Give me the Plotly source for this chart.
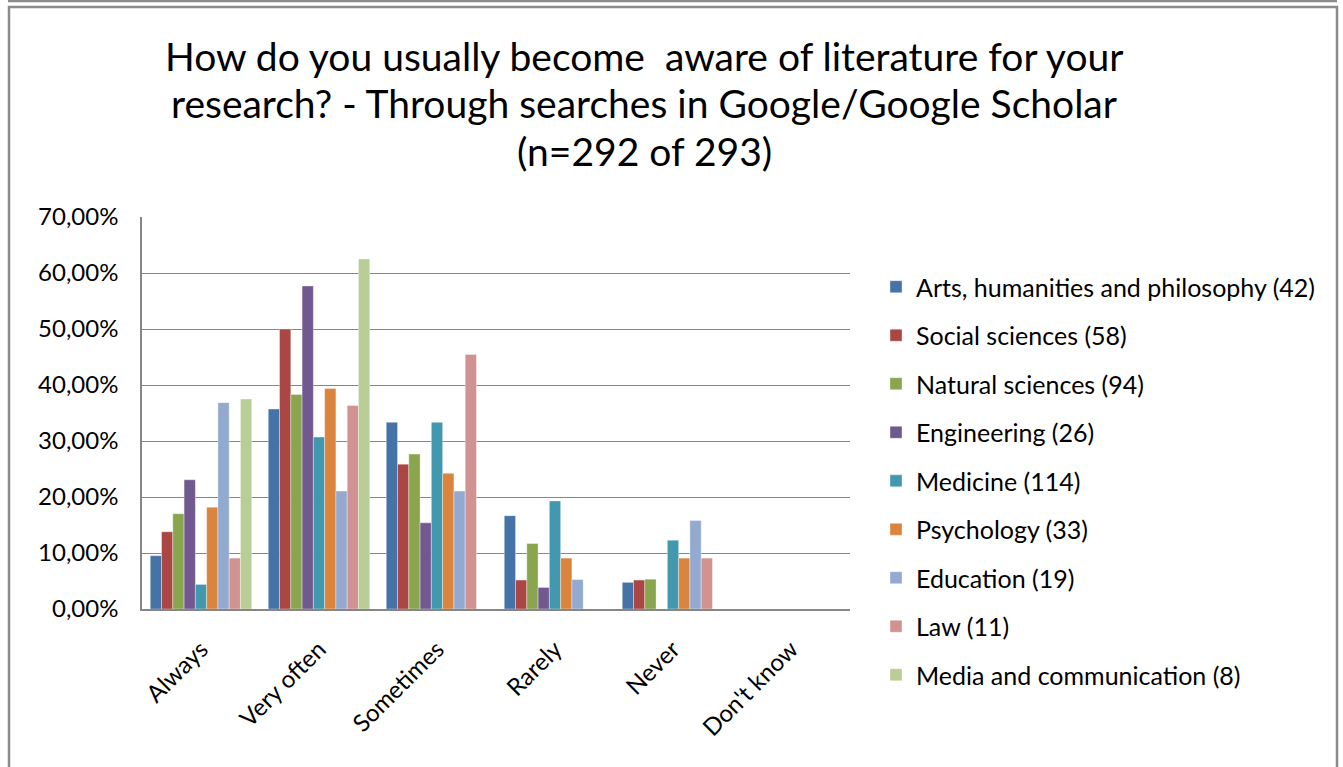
import plotly.graph_objects as go

categories = ["Always", "Very often", "Sometimes", "Rarely", "Never", "Don't know"]

series_names = [
    "Arts, humanities and philosophy (42)",
    "Social sciences (58)",
    "Natural sciences (94)",
    "Engineering (26)",
    "Medicine (114)",
    "Psychology (33)",
    "Education (19)",
    "Law (11)",
    "Media and communication (8)",
]

arts = [0.0952, 0.3571, 0.3333, 0.1667, 0.0476, 0.0]
social = [0.1379, 0.5000, 0.2586, 0.0517, 0.0517, 0.0]
natural = [0.1702, 0.3830, 0.2766, 0.1170, 0.0532, 0.0]
engineering = [0.2308, 0.5769, 0.1538, 0.0385, 0.0, 0.0]
medicine = [0.0439, 0.3070, 0.3333, 0.1930, 0.1228, 0.0]
psychology = [0.1818, 0.3939, 0.2424, 0.0909, 0.0909, 0.0]
education = [0.3684, 0.2105, 0.2105, 0.0526, 0.1579, 0.0]
law = [0.0909, 0.3636, 0.4545, 0.0, 0.0909, 0.0]
media = [0.3750, 0.6250, 0.0, 0.0, 0.0, 0.0]

series_values = [arts, social, natural, engineering, medicine, psychology, education, law, media]

colors = ["#4572A7", "#AA4643", "#89A54E", "#71588F", "#4198AF",
          "#DB843D", "#93A9CF", "#D19392", "#B9CD96"]

title_lines = [
    "How do you usually become  aware of literature for your",
    "research? - Through searches in Google/Google Scholar",
    "(n=292 of 293)",
]

FONT = "Lato"

fig = go.Figure()
for i, (name, vals) in enumerate(zip(series_names, series_values)):
    fig.add_trace(go.Bar(
        x=categories, y=vals, name=name,
        marker=dict(color=colors[i], line=dict(width=0.6, color="rgba(255,255,255,0.6)")),
        legendgroup=f"g{i}",
    ))

W, H = 1343, 767
L, R, T, B = 142, 850, 217, 609

def px_x(x):
    return (x - L) / (R - L)

def px_y(y):
    return (B - y) / (B - T)

annotations = []
for line, yc in zip(title_lines, [56, 103, 151]):
    annotations.append(dict(
        text=line, xref="paper", yref="paper", x=px_x(644), y=px_y(yc),
        xanchor="center", yanchor="middle", showarrow=False,
        font=dict(size=39, family=FONT, color="#000000"),
    ))

fig.update_layout(
    width=W, height=H,
    margin=dict(l=L, r=W - R, t=T, b=H - B, autoexpand=False),
    paper_bgcolor="white", plot_bgcolor="white",
    separators=", ",
    barmode="group", bargap=0.14, bargroupgap=0.0,
    font=dict(family=FONT, color="#000000"),
    annotations=annotations,
    xaxis=dict(
        showline=True, linecolor="#868686", linewidth=1.5,
        tickangle=-45, tickfont=dict(size=24, family=FONT),
        ticks="", showgrid=False, ticklabelstandoff=15,
    ),
    yaxis=dict(
        range=[0, 0.7], dtick=0.1, tickformat=".2%",
        showline=True, linecolor="#868686", linewidth=1.5,
        showgrid=True, gridcolor="#868686", gridwidth=1.2,
        tickfont=dict(size=24, family=FONT), ticks="", ticklabelstandoff=17,
        zeroline=False,
    ),
    legend=dict(
        x=px_x(876), xanchor="left", y=px_y(264), yanchor="top",
        font=dict(size=25, family=FONT), tracegroupgap=13,
        traceorder="grouped", bgcolor="rgba(0,0,0,0)", maxheight=700,
    ),
    shapes=[
        dict(type="line", xref="paper", yref="paper",
             x0=px_x(8), x1=px_x(1337), y0=px_y(1), y1=px_y(1),
             line=dict(color="#8c8c8c", width=2.5)),
        dict(type="rect", xref="paper", yref="paper",
             x0=px_x(9), x1=px_x(1337), y0=px_y(7), y1=px_y(780),
             line=dict(color="#8c8c8c", width=2.5), fillcolor="rgba(0,0,0,0)", layer="below"),
    ],
)

fig.write_html("out.html", config={"displayModeBar": False},
               post_script="document.body.style.margin='0';document.body.style.overflow='hidden';")
